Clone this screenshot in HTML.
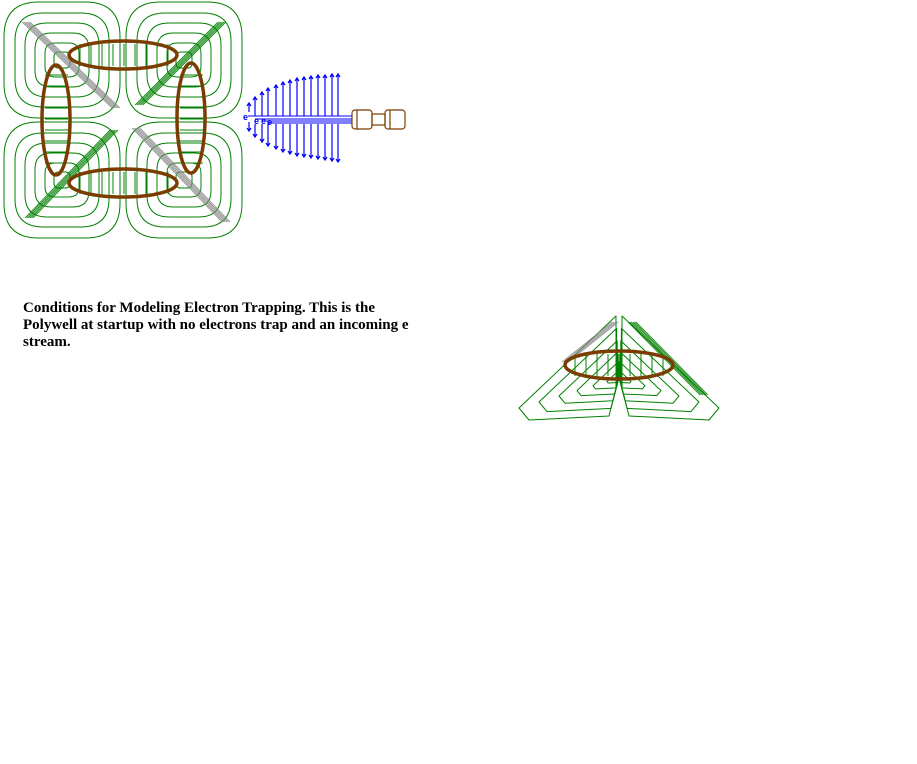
<!DOCTYPE html>
<html><head><meta charset="utf-8"><style>
html,body{margin:0;padding:0;background:#fff;width:917px;height:764px;overflow:hidden}
svg{position:absolute;left:0;top:0}
.cap{position:absolute;left:23px;top:300px;width:392px;font:bold 15px "Liberation Serif",serif;line-height:17px;color:#000}
</style></head><body>
<svg id="s" width="917" height="764">
<g id="contours" fill="none" stroke="#008000" stroke-width="1"></g>
<g id="diag"></g>
<g id="coils" fill="none" stroke="#7a3c00" stroke-width="3.5">
<ellipse cx="123" cy="55" rx="54" ry="14"/>
<ellipse cx="123" cy="183" rx="54" ry="14"/>
<ellipse cx="56" cy="120" rx="14" ry="55"/>
<ellipse cx="191" cy="118" rx="14" ry="55"/>
<ellipse cx="619" cy="365" rx="54" ry="14"/>
</g>
<g id="arrows" stroke="#0000ff" stroke-width="1.2" fill="none"></g>
<g stroke="#0000ff" stroke-width="1">
<line x1="248" y1="116" x2="352" y2="116"/><line x1="255" y1="119" x2="352" y2="119"/><line x1="262" y1="121" x2="352" y2="121"/><line x1="268" y1="123" x2="352" y2="123"/>
</g>
<g font-family="Liberation Sans,sans-serif" font-size="9" font-weight="bold" fill="#0000ff">
<text x="243" y="120">e</text>
<text x="254" y="124">e</text><text x="261" y="124">e</text><text x="267" y="125">e</text>
</g>
<g fill="none" stroke="#7a3c00" stroke-width="1.2">
<rect x="352" y="110" width="20" height="19" rx="3"/><line x1="357" y1="110" x2="357" y2="129"/>
<rect x="372" y="114" width="13" height="11"/>
<rect x="385" y="110" width="20" height="19" rx="3"/><line x1="390" y1="110" x2="390" y2="129"/>
</g>
</svg>
<div class="cap">Conditions for Modeling Electron Trapping. This is the Polywell at startup with no electrons trap and an incoming e stream.</div>
<script>
const NS='http://www.w3.org/2000/svg';
const C=document.getElementById('contours');
function P(d,g){const p=document.createElementNS(NS,'path');p.setAttribute('d',d);g.appendChild(p);return p;}
const corners=[[62,60],[184,60],[62,180],[184,180]];
const sizes=[8,17,27,37,47,58];
corners.forEach(([cx,cy])=>{
  sizes.forEach(r=>{
    const x0=cx-r, x1=cx+r, y0=cy-r, y1=cy+r;
    const rr=r*0.6;
    const p=P(`M${x0+rr},${y0}H${x1-rr}Q${x1},${y0} ${x1},${y0+rr}V${y1-rr}Q${x1},${y1} ${x1-rr},${y1}H${x0+rr}Q${x0},${y1} ${x0},${y1-rr}V${y0+rr}Q${x0},${y0} ${x0+rr},${y0}Z`,C);
    
    
  });
});
for(let x=80;x<=168;x+=11){P(`M${x},44V66M${x},172V194`,C);}
for(let y=75;y<=165;y+=11){P(`M45,${y}H68M180,${y}H203`,C);}
[-1,1].forEach(s=>{
  [1,0.8,0.6,0.42,0.26,0.12].forEach(k=>{
    const cx=619,cy=378;
    const pts=[[-3,-62],[-100,30],[-90,42],[-10,38],[-3,10]].map(([x,y])=>[cx+s*x*k,cy+y*k]);
    const d='M'+pts.map(p=>p.join(',')).join('L')+'Z';
    const p=P(d,C);p.setAttribute('stroke-linejoin','round');
    
    
  });
});
for(let x=575;x<=665;x+=11){P(`M${x},354V376`,C);}
const D=document.getElementById('diag');
function band(x1,y1,x2,y2,col,n){for(let i=0;i<n;i++){const l=document.createElementNS(NS,'line');
l.setAttribute('x1',x1+i*1.6);l.setAttribute('y1',y1);l.setAttribute('x2',x2+i*1.6);l.setAttribute('y2',y2);
l.setAttribute('stroke',col);l.setAttribute('stroke-width','0.8');

D.appendChild(l);}}
band(22,22,112,108,'#888',6);band(132,128,222,222,'#888',6);
band(218,22,135,105,'#008000',6);band(110,130,25,218,'#008000',6);
band(612,322,562,362,'#888',5);band(628,322,700,395,'#008000',6);
const A=document.getElementById('arrows');
const arrowX=[249,255,262,268,276,283,290,297,304,311,318,325,332,338];
const arrowTop=[103,97,92,88,85,82,80,78,77,76,75,75,74,74];
const arrowBot=[131,137,142,146,149,152,154,156,157,158,159,160,161,162];
arrowX.forEach((x,i)=>{
  const g=document.createElementNS(NS,'path');
  const t=arrowTop[i],b=arrowBot[i];
  g.setAttribute('d',`M${x},${i<1?112:116}V${t}M${x-2},${t+3}L${x},${t}L${x+2},${t+3}M${x},${i<1?122:124}V${b}M${x-2},${b-3}L${x},${b}L${x+2},${b-3}`);
  
  
  A.appendChild(g);
});
</script>
</body></html>
